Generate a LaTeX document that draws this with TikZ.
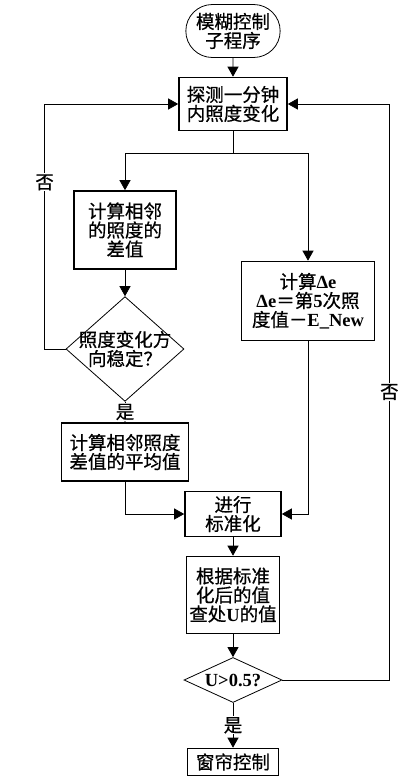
\documentclass[tikz,border=0pt]{standalone}
\usepackage{fontspec}
\setmainfont{Liberation Serif}
\newfontfamily\cjkfont[FakeBold=0.6]{Noto Sans CJK SC}
\usetikzlibrary{positioning, arrows.meta, shapes.geometric, shapes.misc, calc}

\newcommand{\lat}[1]{{\rmfamily\bfseries #1}}

\begin{document}
\begin{tikzpicture}[on grid, font=\cjkfont\fontsize{18.5pt}{19pt}\selectfont,
    >={Triangle[length=10pt,width=11pt]},
    proc/.style={draw, rectangle, line width=1.6pt, align=center, inner sep=2pt},
    decision/.style={draw, diamond, line width=0.8pt, align=center, inner sep=-6pt},
    term/.style={draw, rounded rectangle, line width=0.8pt, align=center,
      minimum width=101pt, minimum height=53pt},
    link/.style={line width=0.8pt},
    flow/.style={link, ->},
    tag/.style={fill=white, inner sep=1pt}]
  \useasboundingbox (-233pt,31pt) rectangle (184pt,-752pt);

  \node[term] (start) at (0,0) {模糊控制\\子程序};
  \node[proc, minimum width=108pt, minimum height=53pt] (probe) [below=73pt of start] {探测一分钟\\内照度变化};
  \node[proc, minimum width=102pt, minimum height=78pt] (diff) [below left=126pt and 108pt of probe] {计算相邻\\的照度的\\差值};
  \node[proc, minimum width=133pt, minimum height=79pt] (dele) [below right=197pt and 75pt of probe]
    {计算\lat{Δe}\\\lat{Δe}＝第\lat{5}次照\\度值－\lat{E\_New}};
  \node[decision, minimum width=118pt, minimum height=78pt] (stable) [below=119pt of diff] {照度变化方\\向稳定？};
  \node[proc, minimum width=127pt, minimum height=58pt] (avg) [below=103pt of stable] {计算相邻照度\\差值的平均值};
  \node[proc, minimum width=96pt, minimum height=45pt] (norm) [below=410pt of probe] {进行\\标准化};
  \node[proc, minimum width=93pt, minimum height=77pt] (lookup) [below=81pt of norm] {根据标准\\化后的值\\查处\lat{U}的值};
  \node[decision, minimum width=98pt, minimum height=45pt] (bigger) [below=85pt of lookup] {\lat{U>0.5?}};
  \node[proc, minimum width=91pt, minimum height=27pt] (ctrl) [below=82pt of bigger] {窗帘控制};

  \coordinate (fork) at ($(probe)+(0,-49pt)$);
  \coordinate (leftback) at ($(stable.west)+(-21pt,0)$);
  \coordinate (rightback) at ($(bigger.east)+(107pt,0)$);

  \draw[flow] (start) -- (probe);
  \draw[link] (probe) -- (fork);
  \draw[flow] (fork) -| (diff);
  \draw[flow] (fork) -| (dele);
  \draw[flow] (diff) -- (stable);
  \draw[flow] (stable.west) -- (leftback) |- node[tag, pos=0.34] {否} (probe.west);
  \draw[flow] (stable) -- node[tag] {是} (avg);
  \draw[flow] (avg) |- (norm);
  \draw[flow] (dele) |- (norm);
  \draw[flow] (norm) -- (lookup);
  \draw[flow] (lookup) -- (bigger);
  \draw[flow] (bigger.east) -- (rightback) |- node[tag, pos=0.25] {否} (probe.east);
  \draw[flow] (bigger) -- node[tag] {是} (ctrl);
\end{tikzpicture}
\end{document}
